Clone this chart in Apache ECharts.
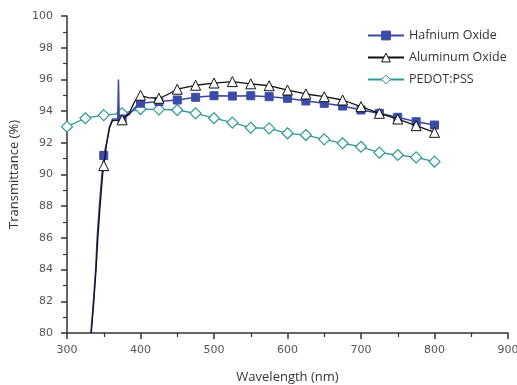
<!DOCTYPE html>
<html>
<head>
<meta charset="utf-8">
<script src="https://cdn.jsdelivr.net/npm/echarts@6/dist/echarts.min.js"></script>
<style>
html,body{margin:0;padding:0;background:#fff;}
#chart{width:517px;height:385px;}
</style>
</head>
<body>
<div id="chart"></div>
<script>
// ---- data ----
const hafniumWavelength = [332.5, 336, 339, 341, 344, 347.5, 350, 354, 358, 362, 369, 370, 371, 375, 385, 392, 400, 425, 450, 475, 500, 525, 550, 575, 600, 625, 650, 675, 700, 725, 750, 775, 800];
const hafniumValues     = [80, 82, 84, 86, 88, 90, 91.2, 92, 93, 93.5, 93.5, 96.0, 93.5, 93.5, 93.8, 94.2, 94.5, 94.6, 94.7, 94.87, 94.97, 94.95, 94.97, 94.91, 94.81, 94.64, 94.49, 94.32, 94.07, 93.86, 93.61, 93.33, 93.12];

const aluminumWavelength = [333, 336.5, 339.5, 342, 345, 348.5, 350, 354, 358, 362, 375, 385, 392, 400, 410, 425, 435, 450, 475, 500, 525, 550, 575, 600, 625, 650, 675, 700, 725, 750, 775, 800];
const aluminumValues     = [80, 82, 84, 86, 88, 90, 90.56, 92, 93, 93.4, 93.45, 93.9, 94.6, 95.0, 94.85, 94.81, 95.0, 95.38, 95.63, 95.77, 95.86, 95.72, 95.60, 95.33, 95.08, 94.91, 94.70, 94.28, 93.86, 93.50, 93.08, 92.66];

const pedotWavelength = [300, 325, 350, 375, 400, 425, 450, 475, 500, 525, 550, 575, 600, 625, 650, 675, 700, 725, 750, 775, 800];
const pedotValues     = [93.02, 93.55, 93.75, 93.86, 94.13, 94.11, 94.07, 93.86, 93.55, 93.27, 92.95, 92.91, 92.60, 92.49, 92.22, 91.97, 91.75, 91.38, 91.23, 91.08, 90.81];

const seriesNames = ['Hafnium Oxide', 'Aluminum Oxide', 'PEDOT:PSS'];
const xTicks = [300, 400, 500, 600, 700, 800, 900];
const yTicks = [80, 82, 84, 86, 88, 90, 92, 94, 96, 98, 100];
const markerStep = 25;

function build(xs, ys) {
  return xs.map((x, i) => {
    const item = { value: [x, ys[i]] };
    if (x % markerStep !== 0) item.symbol = 'none';
    return item;
  });
}

const chart = echarts.init(document.getElementById('chart'), null, { renderer: 'canvas' });
const axisColor = '#333';
chart.setOption({
  animation: false,
  backgroundColor: '#fff',
  grid: { left: 67, right: 9, top: 16, bottom: 52, containLabel: false, outerBoundsMode: 'none' },
  legend: {
    orient: 'vertical',
    left: 362,
    top: 24,
    itemWidth: 36,
    itemHeight: 11,
    itemGap: 9,
    itemStyle: { borderWidth: 1 },
    textStyle: { fontFamily: 'Open Sans', fontSize: 12.5, color: '#333', padding: [0, 0, 0, 0] },
    data: seriesNames
  },
  xAxis: {
    type: 'value',
    min: xTicks[0], max: xTicks[xTicks.length - 1], interval: 100,
    name: 'Wavelength (nm)', nameLocation: 'middle', nameGap: 38,
    nameTextStyle: { fontFamily: 'Open Sans', fontSize: 13, color: '#333' },
    axisLine: { show: true, lineStyle: { color: axisColor, width: 1.5 } },
    axisTick: { show: true, inside: false, length: 6, lineStyle: { color: axisColor, width: 1.5 } },
    minorTick: { show: true, splitNumber: 2, length: 4, lineStyle: { color: axisColor, width: 1.2 } },
    axisLabel: { fontFamily: 'DejaVu Sans', fontSize: 11, color: '#555', margin: 12 },
    splitLine: { show: false }
  },
  yAxis: {
    type: 'value',
    min: yTicks[0], max: yTicks[yTicks.length - 1], interval: 2,
    name: 'Transmittance (%)', nameLocation: 'middle', nameGap: 43, nameRotate: 90,
    nameTextStyle: { fontFamily: 'Open Sans', fontSize: 13, color: '#333' },
    axisLine: { show: true, lineStyle: { color: axisColor, width: 1.5 } },
    axisTick: { show: true, inside: false, length: 6, lineStyle: { color: axisColor, width: 1.5 } },
    minorTick: { show: true, splitNumber: 2, length: 4, lineStyle: { color: axisColor, width: 1.2 } },
    axisLabel: { fontFamily: 'DejaVu Sans', fontSize: 11, color: '#555', margin: 14 },
    splitLine: { show: false }
  },
  series: [
    {
      name: seriesNames[0], type: 'line',
      data: build(hafniumWavelength, hafniumValues),
      symbol: 'rect', symbolSize: 8, showAllSymbol: true,
      lineStyle: { color: '#3a46a5', width: 1.5 },
      itemStyle: { color: '#3c4aa8', borderColor: '#3c4aa8', borderWidth: 1 },
      z: 3
    },
    {
      name: seriesNames[1], type: 'line',
      data: build(aluminumWavelength, aluminumValues),
      symbol: 'triangle', symbolSize: 10, showAllSymbol: true,
      lineStyle: { color: '#111', width: 1.3 },
      itemStyle: { color: '#fff', borderColor: '#111', borderWidth: 1 },
      z: 4
    },
    {
      name: seriesNames[2], type: 'line',
      data: build(pedotWavelength, pedotValues),
      symbol: 'diamond', symbolSize: 11, showAllSymbol: true,
      lineStyle: { color: '#2e9a95', width: 1.3 },
      itemStyle: { color: '#fff', borderColor: '#2e9a95', borderWidth: 1.2 },
      z: 2
    }
  ]
});
</script>
</body>
</html>
